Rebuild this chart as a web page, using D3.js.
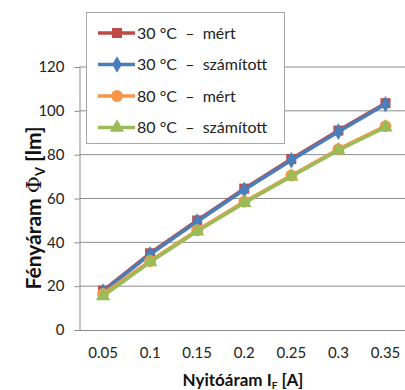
<!DOCTYPE html>
<html>
<head>
<meta charset="utf-8">
<script src="https://cdn.jsdelivr.net/npm/d3@7"></script>
<style>
  body { margin:0; background:#fff; }
  svg text { font-family: Lato, "Open Sans", sans-serif; white-space: pre; }
</style>
</head>
<body>
<svg id="chart" width="405" height="390"></svg>
<script>
var categories = ["0.05","0.1","0.15","0.2","0.25","0.3","0.35"]
  , yTicks = [0,20,40,60,80,100,120]
  , meas30 = [18, 35, 50, 64.5, 78, 91, 103.5]
  , calc30 = [17.5, 34.5, 49.5, 64, 77.5, 90.5, 103]
  , meas80 = [16.5, 31.5, 45.5, 58.5, 70.5, 82.5, 93]
  , calc80 = [15.5, 31, 45, 58, 70, 82, 92.5]
  , seriesNames = ["30 °C  \u2013  mért","30 °C  \u2013  számított","80 °C  \u2013  mért","80 °C  \u2013  számított"]
  ;

var series = [
    {name: seriesNames[0], values: meas30, color: "#BE4B48", shape: d3.symbolSquare, size: 100}
  , {name: seriesNames[1], values: calc30, color: "#4A7EBB", shape: d3.symbolDiamond, size: 80}
  , {name: seriesNames[2], values: meas80, color: "#F79646", shape: d3.symbolCircle, size: 110}
  , {name: seriesNames[3], values: calc80, color: "#9BBB59", shape: d3.symbolTriangle, size: 90}
];

var svg = d3.select("#chart")
  , margin = {left: 79.5, top: 67, bottom: 330}
  , plotRight = 409;

var x = d3.scaleBand().domain(categories).range([margin.left, plotRight]);
var y = d3.scaleLinear().domain([0,120]).range([margin.bottom, margin.top]);

// gridlines
svg.append("g").selectAll("line")
  .data(yTicks.filter(function(d){ return d > 0; }))
  .enter().append("line")
  .attr("x1", margin.left).attr("x2", plotRight)
  .attr("y1", function(d){ return y(d); }).attr("y2", function(d){ return y(d); })
  .attr("stroke", "#8c8c8c").attr("stroke-width", 1);

// y axis
var yAxis = svg.append("g")
  .attr("transform", "translate(" + margin.left + ",0)")
  .call(d3.axisLeft(y).tickValues(yTicks).tickSize(5).tickPadding(10));
yAxis.select(".domain").attr("stroke", "#8c8c8c");
yAxis.selectAll(".tick line").attr("stroke", "#8c8c8c");
yAxis.selectAll("text").attr("font-size", 15).attr("fill", "#222")
  .style("font-family", "Lato, sans-serif");

// x axis
var xAxis = svg.append("g")
  .attr("transform", "translate(0," + margin.bottom + ")")
  .call(d3.axisBottom(x).tickSize(0).tickPadding(17));
xAxis.select(".domain").attr("stroke", "#8c8c8c");
xAxis.selectAll("text").attr("font-size", 15).attr("fill", "#222")
  .style("font-family", "Lato, sans-serif");

// lines + markers
var line = d3.line()
  .x(function(d,i){ return x(categories[i]) + x.bandwidth()/2; })
  .y(function(d){ return y(d); });

series.forEach(function(s){
  var g = svg.append("g");
  g.append("path")
    .datum(s.values)
    .attr("d", line)
    .attr("fill", "none")
    .attr("stroke", s.color)
    .attr("stroke-width", 3.5)
    .attr("stroke-linejoin", "round");
  g.selectAll("path.mk")
    .data(s.values)
    .enter().append("path")
    .attr("class", "mk")
    .attr("d", d3.symbol().type(s.shape).size(s.size))
    .attr("transform", function(d,i){
      return "translate(" + (x(categories[i]) + x.bandwidth()/2) + "," + y(d) + ")";
    })
    .attr("fill", s.color);
});

// legend
var legend = svg.append("g");
legend.append("rect")
  .attr("x", 86.5).attr("y", 12.5).attr("width", 198).attr("height", 131)
  .attr("fill", "#fff").attr("stroke", "#a6a6a6");
var rows = legend.selectAll("g.row")
  .data(series)
  .enter().append("g")
  .attr("class", "row")
  .attr("transform", function(d,i){ return "translate(0," + (33 + i*31.5) + ")"; });
rows.append("line")
  .attr("x1", 98).attr("x2", 135)
  .attr("stroke", function(d){ return d.color; })
  .attr("stroke-width", 3.5);
rows.append("path")
  .attr("d", function(d){ return d3.symbol().type(d.shape).size(d.size)(); })
  .attr("transform", "translate(117,0)")
  .attr("fill", function(d){ return d.color; });
rows.append("text")
  .attr("x", 137).attr("y", 0).attr("dy", "0.35em")
  .attr("font-size", 16).attr("fill", "#222")
  .text(function(d){ return d.name; });

// axis titles
var yt = svg.append("text")
  .attr("transform", "translate(41," + 208 + ") rotate(-90)")
  .attr("text-anchor", "middle")
  .attr("font-size", 21).attr("font-weight", "bold").attr("fill", "#111");
yt.append("tspan").text("Fényáram ");
yt.append("tspan").style("font-family", "'DejaVu Serif', serif").attr("font-weight", "normal").text("\u03A6");
yt.append("tspan").attr("font-size", 13).attr("dy", 4).text("V");
yt.append("tspan").attr("dy", -4).text(" [lm]");

var xt = svg.append("text")
  .attr("x", 243).attr("y", 386)
  .attr("text-anchor", "middle")
  .attr("font-size", 17).attr("font-weight", "bold").attr("fill", "#111");
xt.append("tspan").text("Nyitóáram I");
xt.append("tspan").attr("font-size", 10).attr("dy", 3).text("F");
xt.append("tspan").attr("dy", -3).text(" [A]");
</script>
</body>
</html>
